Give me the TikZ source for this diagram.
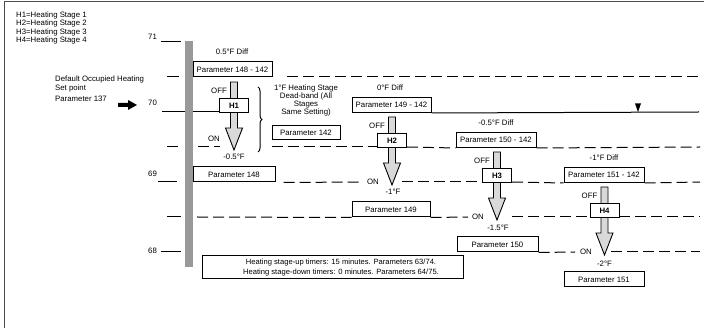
\documentclass[tikz,border=0pt]{standalone}
\usepackage{fontspec}
\setmainfont{Liberation Sans}
\usetikzlibrary{decorations.pathreplacing}
\begin{document}
\begin{tikzpicture}[x=1pt,y=-1pt,
  font=\fontsize{7.8}{9}\selectfont,
  box/.style={draw, line width=1pt, minimum height=15pt, inner sep=0pt, fill=white},
  hbox/.style={draw, line width=1pt, minimum width=29pt, minimum height=14pt, inner sep=0pt, fill=white, font=\fontsize{7.8}{9}\selectfont\bfseries},
  dl/.style={dash pattern=on 11pt off 5pt, line width=1pt},
  sl/.style={line width=1pt},
  arr/.style={draw, line width=0.9pt, fill=black!15},
  lbl/.style={inner sep=0pt}]
\useasboundingbox (0,0) rectangle (704,328);
% frame
\draw[line width=0.8pt, black!70] (4,328) -- (4,1.5) -- (704,1.5);
% legend
\node[lbl, anchor=west] (l1) at (16,15) {H1=Heating Stage 1};
\node[lbl, anchor=west] (l2) at (16,23.5) {H2=Heating Stage 2};
\node[lbl, anchor=west] (l3) at (16,32) {H3=Heating Stage 3};
\node[lbl, anchor=west] (l4) at (16,40.5) {H4=Heating Stage 4};
\node[lbl, anchor=west] (d1) at (55,79) {Default Occupied Heating};
\node[lbl, anchor=west] (d2) at (55,88) {Set point};
\node[lbl, anchor=west] (d3) at (55,99) {Parameter 137};
\fill (118,103) -- (128,103) -- (128,100) -- (137,105) -- (128,110) -- (128,107) -- (118,107) -- cycle;
% scale labels
\node[lbl] (t71) at (152.5,37) {71};
\node[lbl] (t70) at (152.5,103) {70};
\node[lbl] (t69) at (152.5,174) {69};
\node[lbl] (t68) at (152.5,251) {68};
% ticks
\draw[sl] (161,42) -- (181,42);
\draw[sl] (167,77) -- (179,77);
\draw[sl] (167,147) -- (178,147);
\draw[sl] (158,182) -- (177,182);
\draw[sl] (167,217) -- (181,217);
\draw[sl] (161,252) -- (181,252);
% boxes
\node[box, minimum width=79pt] (p1d) at (232.5,69.5) {Parameter 148 - 142};
\node[box, minimum width=79pt] (p2d) at (391.5,105) {Parameter 149 - 142};
\node[box, minimum width=80pt] (p3d) at (496,140) {Parameter 150 - 142};
\node[box, minimum width=80pt] (p4d) at (604,175) {Parameter 151 - 142};
\node[box, minimum width=82pt] (p1) at (234,174.5) {Parameter 148};
\node[box, minimum width=78pt] (p2) at (391,209.5) {Parameter 149};
\node[box, minimum width=81pt] (p3) at (497.5,244.5) {Parameter 150};
\node[box, minimum width=80pt] (p4) at (604,279.5) {Parameter 151};
\node[box, minimum width=68pt, minimum height=14pt] (p142) at (306,133) {Parameter 142};
% horizontal lines
\draw[dl] (287,77) -- (700,77);
\draw[sl] (162,112) -- (220,112);
\draw[sl] (p2d.south east) -- (699,112);
\fill (635,103.5) -- (641,103.5) -- (638,112) -- cycle;
\draw[dl] (198,147) -- (220,147);
\draw[dl] (272,147) -- (377,147);
\draw[dl] (407,147) -- (p3d.south west);
\draw[dl] (p3d.south east) -- (700,147);
\draw[dl] (p1.south east) ++(8,0) -- (362,182);
\draw[dl] (402,182) -- (483,182);
\draw[dl] (512,182) -- (p4d.south west);
\draw[dl] (p4d.south east) -- (700,182);
\draw[dl] (197,217) -- (p2.south west);
\draw[dl] (p2.south east) -- (468,217);
\draw[dl] (512,217) -- (590,217);
\draw[dl] (619,217) -- (700,217);
\draw[dl] (p3.south east) -- (575,252);
\draw[dl] (611,252) -- (700,252);
% bar
\fill[black!40] (185,41) rectangle (192.5,267);
% arrows: c, shaft top, mid, bottom
\foreach \c/\t/\m/\b [count=\k] in {234/77/112/147, 392/112/147/182, 497/147/182/217, 604.5/182/217/252}{
  \draw[arr] (\c-3.5,\t+5) -- (\c+3.5,\t+5) -- (\c+3.5,\m+16) -- (\c+8.5,\m+16) -- (\c,\b+3) -- (\c-8.5,\m+16) -- (\c-3.5,\m+16) -- cycle;
  \node[hbox] (h\k) at (\c,\m-6) {H\k};
  \node[lbl] (off\k) at (\c-15,\m-21) {OFF};
}
\node[lbl] (on1) at (214,139) {ON};
\node[lbl] (on2) at (373,182) {ON};
\node[lbl] (on3) at (478,217) {ON};
\node[lbl] (on4) at (586,252) {ON};
\node[lbl] (g1) at (234,157) {-0.5°F};
\node[lbl] (g2) at (393,192) {-1°F};
\node[lbl] (g3) at (498,227.5) {-1.5°F};
\node[lbl] (g4) at (604.5,263.5) {-2°F};
\node[lbl] (f1) at (232,52) {0.5°F Diff};
\node[lbl] (f2) at (390,88) {0°F Diff};
\node[lbl] (f3) at (496,123) {-0.5°F Diff};
\node[lbl] (f4) at (604,158) {-1°F Diff};
% dead band
\draw[sl, decorate, decoration={brace, amplitude=4pt}] (258,87) -- (258,152);
\node[lbl, align=center, font=\fontsize{7.8}{8}\selectfont] (db) at (306,100) {1°F Heating Stage\\Dead-band (All\\Stages\\Same Setting)};
% timers
\node[draw, line width=1pt, minimum width=261pt, minimum height=23pt, inner sep=0pt] (tb) at (332.5,267.5) {};
\node[lbl, align=center, font=\fontsize{7.6}{10}\selectfont] (tt) at (341,267.5) {Heating stage-up timers: 15 minutes. Parameters 63/74.\\Heating stage-down timers: 0 minutes. Parameters 64/75.};
\end{tikzpicture}
\end{document}
